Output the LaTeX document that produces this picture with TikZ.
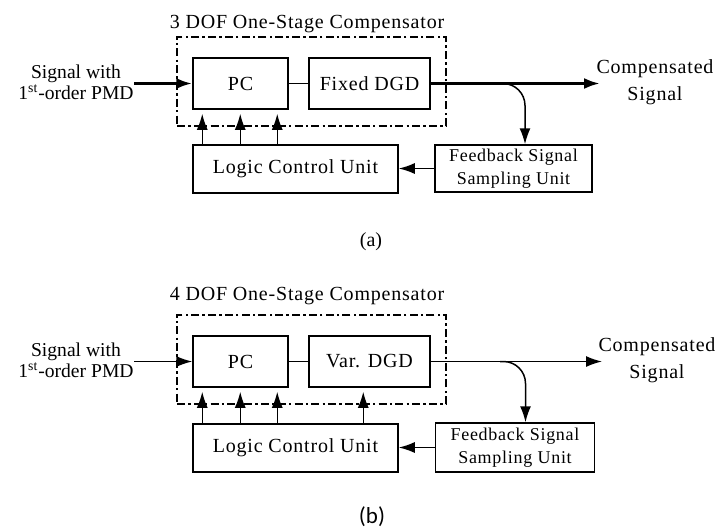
\documentclass[tikz,border=0pt]{standalone}
\usepackage{fontspec}
\setmainfont{Liberation Serif}[LetterSpace=4.0]
\newfontfamily\plainserif{Liberation Serif}
\newfontfamily\capsans{Carlito}
\usetikzlibrary{arrows.meta,positioning,calc}

\begin{document}
\begin{tikzpicture}[x=0.5pt,y=-0.5pt,>={Latex[length=8pt,width=5.5pt]},
 blk/.style={draw,line width=0.75pt,inner sep=0pt,align=center,font=\fontsize{10}{12}\selectfont},
 fbblk/.style={blk,font=\fontsize{9}{11}\selectfont},
 dofbox/.style={draw,line width=1.2pt,dash pattern=on 4pt off 1.6pt on 1.2pt off 1.6pt,
  minimum width=134.5pt,minimum height=44.5pt,inner sep=0pt},
 lbl/.style={align=center,inner sep=0pt,font=\fontsize{10}{12}\selectfont},
 inlbl/.style={align=center,inner sep=0pt,font=\plainserif\fontsize{9.8}{9}\selectfont},
 wire/.style={line width=0.75pt},
 fatwire/.style={line width=1.5pt}]
\useasboundingbox (0,0) rectangle (722,531);

% (a) 3 DOF compensator with fixed DGD
\node[dofbox] (compA) at (311.5,81.5) {};
\node[lbl,anchor=base] (titleA) at (307,28) {3 DOF One-Stage Compensator};
\node[blk,minimum width=47.5pt,minimum height=25.5pt] (pcA) at (240.5,83.5) {PC};
\node[blk,minimum width=60.5pt,minimum height=25.5pt] (dgdA) at (369.5,83.5) {Fixed DGD};
\node[blk,minimum width=102.5pt,minimum height=24pt] (lcuA) at (295.5,169) {Logic Control Unit};
\node[fbblk,minimum width=78.5pt,minimum height=23.5pt] (fbA) at (513.5,168.5) {Feedback Signal\\[0.5pt]Sampling Unit};
\node[inlbl] (inA) at (76,82) {Signal with\\1\textsuperscript{st}-order PMD};
\node[lbl] (outA) at (655,82) {Compensated\\[1.5pt]Signal};
\coordinate (tapA) at (500,83.5);
\coordinate (endA) at (600,83.5);
\draw[->,fatwire] (inA.east |- pcA.west) -- (pcA.west);
\draw[wire] (pcA) -- (dgdA);
\draw[->,fatwire] (dgdA.east) -- (endA);
\draw[->,wire,rounded corners=11pt] (tapA) -| ([xshift=5.75pt]fbA.north);
\draw[->,wire] (fbA.west) -- (lcuA.east |- fbA.west);
\foreach \dx in {5,24,42.5}
 \draw[->,wire] ([xshift=\dx pt]lcuA.north west) -- ([xshift=\dx pt,yshift=-2pt]pcA.south west);
\node[font=\plainserif\fontsize{10}{12}\selectfont,anchor=base] (capA) at (371,246) {(a)};

% (b) 4 DOF compensator with variable DGD
\begin{scope}[yshift=-139pt]
\node[dofbox] (compB) at (311.5,81.5) {};
\node[lbl,anchor=base] (titleB) at (307,22) {4 DOF One-Stage Compensator};
\node[blk,minimum width=47.5pt,minimum height=25.5pt] (pcB) at (240.5,83.5) {PC};
\node[blk,minimum width=60.5pt,minimum height=25.5pt] (dgdB) at (369.5,83.5) {Var. DGD};
\node[blk,minimum width=102.5pt,minimum height=24pt] (lcuB) at (295.5,170) {Logic Control Unit};
\node[fbblk,minimum width=79.5pt,minimum height=24.5pt] (fbB) at (515,169.5) {Feedback Signal\\[0.5pt]Sampling Unit};
\node[inlbl] (inB) at (76,82) {Signal with\\1\textsuperscript{st}-order PMD};
\node[lbl] (outB) at (657,82) {Compensated\\[1.5pt]Signal};
\coordinate (tapB) at (500,83.5);
\coordinate (endB) at (602,83.5);
\coordinate (vtap) at ([xshift=27.5pt,yshift=-2pt]dgdB.south west);
\draw[->,wire] (inB.east |- pcB.west) -- (pcB.west);
\draw[wire] (pcB) -- (dgdB);
\draw[->,wire] (dgdB.east) -- (endB);
\draw[->,wire,rounded corners=11pt] (tapB) -| ([xshift=5.25pt]fbB.north);
\draw[->,wire] (fbB.west) -- (lcuB.east |- fbB.west);
\foreach \dx in {5,24,42.5}
 \draw[->,wire] ([xshift=\dx pt]lcuB.north west) -- ([xshift=\dx pt,yshift=-2pt]pcB.south west);
\draw[->,wire] (lcuB.north -| vtap) -- (vtap);
\end{scope}
\node[font=\capsans\fontsize{11.5}{13}\selectfont,anchor=base] (capB) at (372,523) {(b)};
\end{tikzpicture}
\end{document}
